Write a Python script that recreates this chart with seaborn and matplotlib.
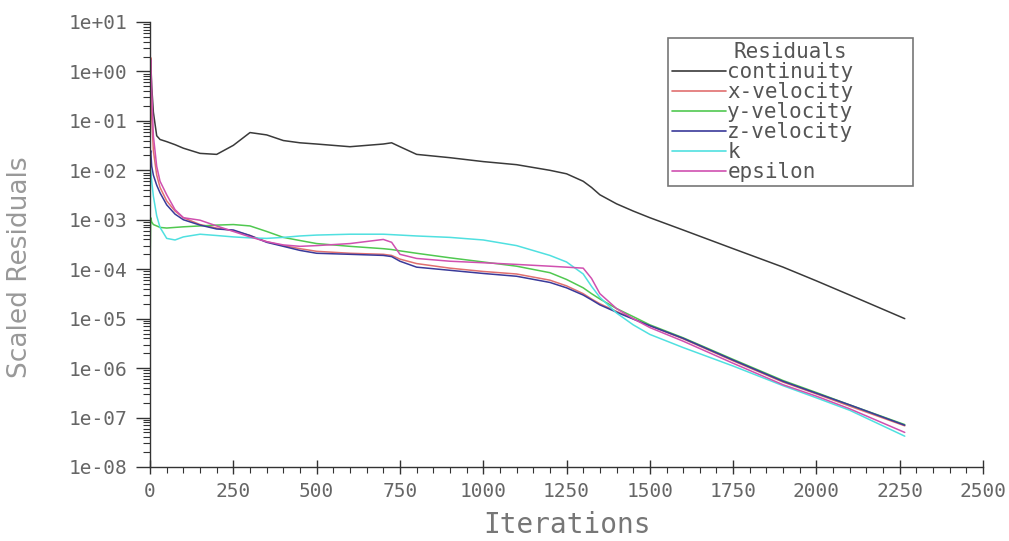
import numpy as np
import pandas as pd
import matplotlib
matplotlib.use("Agg")
import matplotlib.pyplot as plt
import matplotlib.ticker as mticker
import seaborn as sns

iterations = [0, 2, 5, 10, 20, 30, 50, 75, 100, 150, 200, 250, 300, 350, 400, 450, 500,
              600, 700, 725, 750, 800, 900, 1000, 1100, 1200, 1250, 1300, 1325, 1350,
              1400, 1450, 1500, 1600, 1750, 1900, 2000, 2100, 2265]

continuity = [1.0, 1.8, 0.5, 0.15, 0.05, 0.042, 0.038, 0.033, 0.028, 0.022, 0.021, 0.032,
              0.058, 0.052, 0.040, 0.036, 0.034, 0.030, 0.034, 0.036, 0.030, 0.021, 0.018,
              0.015, 0.013, 0.010, 0.0085, 0.006, 0.0045, 0.0032, 0.0021, 0.0015, 0.0011,
              6.2e-4, 2.6e-4, 1.1e-4, 5.8e-5, 3.0e-5, 1.0e-5]

x_velocity = [1.0, 1.9, 0.12, 0.025, 0.008, 0.0045, 0.0024, 0.0015, 0.0011, 8e-4, 6.8e-4,
              6e-4, 4.8e-4, 3.6e-4, 3.0e-4, 2.6e-4, 2.3e-4, 2.1e-4, 2.0e-4, 1.9e-4, 1.6e-4,
              1.3e-4, 1.05e-4, 9e-5, 8e-5, 6e-5, 4.6e-5, 3.2e-5, 2.5e-5, 2.0e-5, 1.4e-5,
              1.0e-5, 7.2e-6, 3.9e-6, 1.4e-6, 5.2e-7, 3.0e-7, 1.7e-7, 6.8e-8]

y_velocity = [1e-4, 1.1e-3, 9e-4, 8e-4, 7.5e-4, 7e-4, 6.8e-4, 7e-4, 7.2e-4, 7.5e-4, 7.8e-4,
              8e-4, 7.5e-4, 5.8e-4, 4.4e-4, 3.8e-4, 3.3e-4, 2.9e-4, 2.6e-4, 2.5e-4, 2.35e-4,
              2.1e-4, 1.7e-4, 1.4e-4, 1.15e-4, 8.5e-5, 6.2e-5, 4.2e-5, 3.2e-5, 2.5e-5, 1.6e-5,
              1.1e-5, 7.5e-6, 4.1e-6, 1.5e-6, 5.6e-7, 3.2e-7, 1.8e-7, 7.2e-8]

z_velocity = [0.02, 0.025, 0.012, 0.008, 0.005, 0.0035, 0.002, 0.0013, 0.001, 7.8e-4, 6.5e-4,
              6.2e-4, 4.8e-4, 3.5e-4, 2.9e-4, 2.4e-4, 2.1e-4, 2.0e-4, 1.9e-4, 1.8e-4, 1.45e-4,
              1.1e-4, 9.5e-5, 8.2e-5, 7.2e-5, 5.4e-5, 4.2e-5, 3.0e-5, 2.4e-5, 1.9e-5, 1.35e-5,
              9.8e-6, 7.2e-6, 4.0e-6, 1.45e-6, 5.4e-7, 3.1e-7, 1.8e-7, 7.0e-8]

k = [0.012, 0.01, 0.006, 0.003, 0.0012, 7e-4, 4.2e-4, 3.9e-4, 4.5e-4, 5.1e-4, 4.8e-4,
     4.5e-4, 4.3e-4, 4.2e-4, 4.4e-4, 4.7e-4, 4.9e-4, 5.1e-4, 5.1e-4, 5.0e-4, 4.9e-4,
     4.7e-4, 4.4e-4, 3.9e-4, 3.0e-4, 1.9e-4, 1.4e-4, 8e-5, 4.5e-5, 2.7e-5, 1.3e-5,
     7.5e-6, 4.8e-6, 2.6e-6, 1.1e-6, 4.4e-7, 2.5e-7, 1.4e-7, 4.2e-8]

epsilon = [1.0, 1.7, 0.4, 0.05, 0.012, 0.006, 0.0032, 0.0016, 0.0011, 9.8e-4, 7.5e-4,
           5.8e-4, 4.5e-4, 3.6e-4, 3.1e-4, 2.9e-4, 3.0e-4, 3.3e-4, 4.0e-4, 3.5e-4, 2.0e-4,
           1.65e-4, 1.45e-4, 1.35e-4, 1.25e-4, 1.15e-4, 1.1e-4, 1.05e-4, 6.5e-5, 3.2e-5,
           1.6e-5, 1.0e-5, 6.6e-6, 3.5e-6, 1.25e-6, 4.6e-7, 2.7e-7, 1.5e-7, 5.0e-8]

series_names = ["continuity", "x-velocity", "y-velocity", "z-velocity", "k", "epsilon"]
series_values = [continuity, x_velocity, y_velocity, z_velocity, k, epsilon]
colors = ["#3a3a3a", "#e07070", "#50c850", "#3a3a9a", "#50e0e0", "#d050b0"]

df = pd.concat([pd.DataFrame({"Iterations": iterations, "residual": vals, "series": name})
                for name, vals in zip(series_names, series_values)], ignore_index=True)

sns.set_style("white")
fig = plt.figure(figsize=(10.09, 5.41), dpi=100)
ax = fig.add_axes([0.1487, 0.1368, 0.8256, 0.8226])

sns.lineplot(data=df, x="Iterations", y="residual", hue="series", hue_order=series_names,
             palette=dict(zip(series_names, colors)), estimator=None, sort=False,
             linewidth=1.1, ax=ax)

ax.set_yscale("log")
ax.set_ylim(1e-8, 10)
ax.set_xlim(0, 2500)

tick_color = "#666666"
ax.xaxis.set_major_locator(mticker.MultipleLocator(250))
ax.xaxis.set_minor_locator(mticker.MultipleLocator(50))
ax.yaxis.set_major_locator(mticker.LogLocator(base=10, numticks=20))
ax.yaxis.set_minor_locator(mticker.LogLocator(base=10, subs=np.arange(2, 10), numticks=20))
ax.yaxis.set_minor_formatter(mticker.NullFormatter())
ax.yaxis.set_major_formatter(mticker.FuncFormatter(lambda v, p: f"{v:.0e}"))

for s in ["top", "right"]:
    ax.spines[s].set_visible(False)
for s in ["left", "bottom"]:
    ax.spines[s].set_color("#333333")
    ax.spines[s].set_linewidth(1.0)

ax.tick_params(which="both", left=True, bottom=True)
ax.tick_params(axis="y", which="major", direction="out", length=10, width=1,
               color="#333333", labelcolor=tick_color, labelsize=14, pad=6)
ax.tick_params(axis="y", which="minor", direction="out", length=5, width=0.8, color="#333333")
ax.tick_params(axis="x", which="major", direction="inout", length=10, width=1,
               color="#333333", labelcolor=tick_color, labelsize=14, pad=6)
ax.tick_params(axis="x", which="minor", direction="out", length=4, width=0.8, color="#333333")
for lab in ax.get_xticklabels() + ax.get_yticklabels():
    lab.set_family("DejaVu Sans Mono")

ax.set_xlabel("Iterations", fontsize=20, color="#777777", family="DejaVu Sans Mono", labelpad=7)
ax.set_ylabel("Scaled Residuals", fontsize=19, color="#999999", family="DejaVu Sans")
ax.yaxis.set_label_coords(-0.14, 0.45)

leg = ax.legend(title="Residuals", loc="upper left", bbox_to_anchor=(0.662, 0.655, 0.243, 0.275),
                bbox_transform=fig.transFigure, mode="expand", frameon=True, fancybox=False,
                handlelength=2.6, handletextpad=0.05, labelspacing=0.0, borderpad=0.2,
                borderaxespad=0, prop={"family": "DejaVu Sans Mono", "size": 15})
leg.get_title().set_fontfamily("DejaVu Sans Mono")
leg.get_title().set_fontsize(15)
leg.get_title().set_color("#555555")
leg.get_frame().set_edgecolor("#555555")
leg.get_frame().set_linewidth(1.2)
for t in leg.get_texts():
    t.set_color("#555555")
for line in leg.get_lines():
    line.set_linewidth(1.2)

fig.savefig("out.png", dpi=100)
